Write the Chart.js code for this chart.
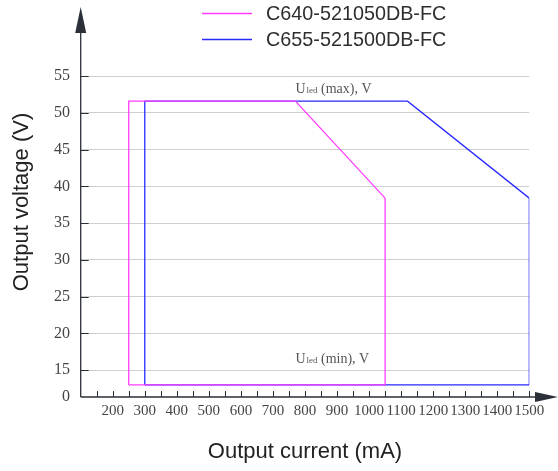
<!DOCTYPE html>
<html>
<head>
<meta charset="utf-8">
<script src="https://cdn.jsdelivr.net/npm/chart.js@4/dist/chart.umd.min.js"></script>
<style>
  html, body { margin: 0; padding: 0; background: #fff; }
  #wrap { width: 558px; height: 471px; }
</style>
</head>
<body>
<div id="wrap"><canvas id="grafico" width="558" height="471"></canvas></div>
<script>
const seriesNames = ['C640-521050DB-FC', 'C655-521500DB-FC']
const seriesColors = ['#ff3cff', '#2828ff']

// contorno da janela de operação: corrente (mA) / tensão (V)
const c640Current = [250, 250, 770, 1050, 1050, 250]
const c640Voltage = [13, 51.6, 51.6, 38.4, 13, 13]
const c655Current = [300, 300, 1120, 1500, 1500, 300]
const c655Voltage = [13, 51.6, 51.6, 38.4, 13, 13]

const xTicks = [150, 200, 250, 300, 350, 400, 450, 500, 550, 600, 650, 700, 750, 800, 850, 900, 950, 1000, 1050, 1100, 1150, 1200, 1250, 1300, 1350, 1400, 1450, 1500]
const yTicks = [15, 20, 25, 30, 35, 40, 45, 50, 55]
const xMin = 100
const xMax = 1500
const yMin = 11.36   // eixo quebrado, rotulado "0"
const yMax = 64.4

// textos Uled (max) / Uled (min)
const notes = [
  { x: 770, y: 53.2, rest: ' (max), V' },
  { x: 770, y: 16.55, rest: ' (min), V' }
]

const axisColor = '#2b3038'

const axisPlugin = {
  id: 'axisPlugin',
  afterDraw(chart) {
    const { ctx, chartArea, scales: { x, y } } = chart
    const x0 = x.getPixelForValue(xMin)
    const y0 = y.getPixelForValue(yMin)
    ctx.save()
    ctx.strokeStyle = axisColor
    ctx.fillStyle = axisColor
    ctx.lineWidth = 1.3

    // eixo y com seta
    const top = chartArea.top
    ctx.beginPath()
    ctx.moveTo(x0, y0)
    ctx.lineTo(x0, top + 20)
    ctx.stroke()
    ctx.beginPath()
    ctx.moveTo(x0, top)
    ctx.lineTo(x0 - 5.5, top + 26)
    ctx.lineTo(x0 + 5.5, top + 26)
    ctx.closePath()
    ctx.fill()

    // eixo x com seta
    const tip = chart.width
    ctx.beginPath()
    ctx.moveTo(x0, y0)
    ctx.lineTo(tip - 18, y0)
    ctx.stroke()
    ctx.beginPath()
    ctx.moveTo(tip, y0)
    ctx.lineTo(tip - 23, y0 - 5)
    ctx.lineTo(tip - 23, y0 + 5)
    ctx.closePath()
    ctx.fill()

    // marcas internas
    ctx.lineWidth = 1
    xTicks.forEach(v => {
      const px = Math.round(x.getPixelForValue(v)) + 0.5
      ctx.beginPath()
      ctx.moveTo(px, y0)
      ctx.lineTo(px, y0 - 6)
      ctx.stroke()
    })
    yTicks.forEach(v => {
      const py = Math.round(y.getPixelForValue(v)) + 0.5
      ctx.beginPath()
      ctx.moveTo(x0, py)
      ctx.lineTo(x0 + 8, py)
      ctx.stroke()
    })

    // anotações
    ctx.fillStyle = '#555'
    ctx.textBaseline = 'middle'
    notes.forEach(n => {
      let px = x.getPixelForValue(n.x)
      const py = y.getPixelForValue(n.y)
      ctx.font = "14px 'Liberation Serif', serif"
      ctx.fillText('U', px, py)
      px += ctx.measureText('U').width + 1
      ctx.font = "9px 'Liberation Serif', serif"
      ctx.fillText('led', px, py + 1.5)
      px += ctx.measureText('led').width
      ctx.font = "14px 'Liberation Serif', serif"
      ctx.fillText(n.rest, px, py)
    })

    // legenda
    chart.data.datasets.forEach((ds, i) => {
      const ly = 13.5 + i * 26
      ctx.strokeStyle = ds.borderColor
      ctx.lineWidth = 1.3
      ctx.beginPath()
      ctx.moveTo(202, ly)
      ctx.lineTo(252, ly)
      ctx.stroke()
      ctx.fillStyle = '#2e2e2e'
      ctx.font = "19.8px 'Liberation Sans', Arial, sans-serif"
      ctx.fillText(ds.label, 266, ly + 1)
    })
    ctx.restore()
  }
}

function pontos(cs, vs) {
  return cs.map((c, i) => ({ x: c, y: vs[i] }))
}

new Chart(document.getElementById('grafico'), {
  type: 'scatter',
  data: {
    datasets: [{
      label: seriesNames[0],
      data: pontos(c640Current, c640Voltage),
      showLine: true,
      borderColor: seriesColors[0],
      borderWidth: 1.3,
      pointRadius: 0,
      tension: 0,
      fill: false
    }, {
      label: seriesNames[1],
      data: pontos(c655Current, c655Voltage),
      showLine: true,
      borderColor: seriesColors[1],
      borderWidth: 1.3,
      pointRadius: 0,
      tension: 0,
      fill: false
    }]
  },
  options: {
    responsive: false,
    animation: false,
    layout: { padding: { top: 7, right: 28.7, bottom: 0, left: 0 } },
    plugins: { legend: { display: false }, tooltip: { enabled: false } },
    scales: {
      x: {
        type: 'linear',
        min: xMin,
        max: xMax,
        afterBuildTicks: s => { s.ticks = xTicks.map(v => ({ value: v })) },
        afterFit: s => { s.paddingLeft = 0; s.paddingRight = 0 },
        grid: { display: false, drawTicks: false },
        border: { display: false },
        ticks: {
          autoSkip: false,
          maxRotation: 0,
          padding: 5,
          color: '#444',
          font: { family: "'Liberation Serif', serif", size: 15 },
          callback: v => v % 100 === 0 ? String(v) : ''
        },
        title: {
          display: true,
          text: 'Output current (mA)',
          color: '#222',
          font: { family: "'Liberation Sans', Arial, sans-serif", size: 22 },
          padding: { top: 13.8, bottom: 5.8 }
        }
      },
      y: {
        type: 'linear',
        min: yMin,
        max: yMax,
        afterBuildTicks: s => { s.ticks = [yMin].concat(yTicks).map(v => ({ value: v })) },
        afterFit: s => { s.paddingTop = 0; s.paddingBottom = 0 },
        grid: {
          drawTicks: false,
          color: c => c.tick && c.tick.value === yMin ? 'rgba(0,0,0,0)' : '#cfcfcf'
        },
        border: { display: false },
        ticks: {
          autoSkip: false,
          padding: 10.7,
          color: '#444',
          font: { family: "'Liberation Serif', serif", size: 16 },
          callback: v => v === yMin ? '0' : String(v)
        },
        title: {
          display: true,
          text: 'Output voltage (V)',
          color: '#222',
          font: { family: "'Liberation Sans', Arial, sans-serif", size: 22 },
          padding: { top: 8.8, bottom: 8.1 }
        }
      }
    }
  },
  plugins: [axisPlugin]
})
</script>
</body>
</html>
